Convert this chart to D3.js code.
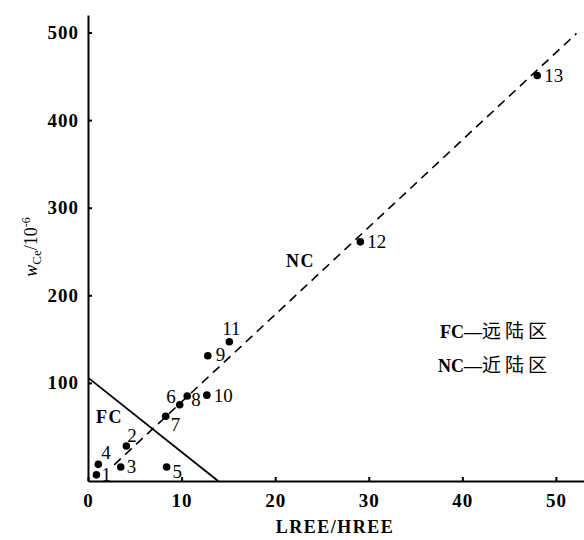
<!DOCTYPE html>
<html>
<head>
<meta charset="utf-8">
<script src="https://cdn.jsdelivr.net/npm/d3@7"></script>
<style>
  body { margin: 0; background: #fff; }
  .axis path, .axis line { stroke: #000; stroke-width: 2; }
  .axis text { font-family: "Liberation Serif", serif; font-weight: bold; font-size: 19px; fill: #000; letter-spacing: 1px; }
  .pt-label { font-family: "Liberation Serif", serif; font-size: 19px; fill: #000; }
  .zone { font-family: "Liberation Serif", serif; font-weight: bold; font-size: 18px; letter-spacing: 1.5px; }
  .legend { font-family: "Liberation Serif", serif; font-weight: bold; font-size: 18px; }
  .legend .cjk { font-family: "Noto Sans CJK SC", sans-serif; font-weight: normal; font-size: 19px; letter-spacing: 4px; }
</style>
</head>
<body>
<div id="chart"></div>
<script>
// sample numbers and values
const sampleIds = [1, 2, 3, 4, 5, 6, 7, 8, 9, 10, 11, 12, 13];
const lreeHree = [0.9, 4.1, 3.5, 1.1, 8.4, 9.8, 8.3, 10.6, 12.8, 12.7, 15.1, 29.1, 48.0];
const ceValues = [-5, 28, 4, 7, 4, 75, 62, 85, 131, 86, 147, 261, 451];

// boundary line of the FC field and the NC trend line (data units)
const fcLine = [[0, 106], [13.9, -12]];
const ncLine = [[2.8, 6.5], [52.2, 499]];

const xTicks = [0, 10, 20, 30, 40, 50];
const yTicks = [100, 200, 300, 400, 500];

const width = 584, height = 540;

const svg = d3.select("#chart")
  .append("svg")
    .attr("width", width)
    .attr("height", height);

const x = d3.scaleLinear()
  .domain([0, 53])
  .range([88, 584]);

const y = d3.scaleLinear()
  .domain([-12, 520])
  .range([481, 15]);

// axes, ticks point inward
svg.append("g")
  .attr("class", "axis")
  .attr("transform", `translate(0, ${y(-12)})`)
  .call(d3.axisBottom(x)
    .tickValues(xTicks)
    .tickSizeInner(-4)
    .tickSizeOuter(0)
    .tickPadding(13)
    .tickFormat(d3.format("d")));

svg.append("g")
  .attr("class", "axis")
  .attr("transform", `translate(${x(0)}, 0)`)
  .call(d3.axisLeft(y)
    .tickValues(yTicks)
    .tickSizeInner(-4)
    .tickSizeOuter(0)
    .tickPadding(9)
    .tickFormat(d3.format("d")));

const line = d3.line()
  .x(d => x(d[0]))
  .y(d => y(d[1]));

// FC field boundary
svg.append("path")
  .datum(fcLine)
  .attr("fill", "none")
  .attr("stroke", "#000")
  .attr("stroke-width", 1.8)
  .attr("d", line);

// NC trend line
svg.append("path")
  .datum(ncLine)
  .attr("fill", "none")
  .attr("stroke", "#000")
  .attr("stroke-width", 1.6)
  .attr("stroke-dasharray", "9,6")
  .attr("d", line);

const data = sampleIds.map((id, i) => ({id: id, r: lreeHree[i], ce: ceValues[i]}));

svg.append("g")
  .selectAll("circle")
  .data(data)
  .join("circle")
    .attr("cx", d => x(d.r))
    .attr("cy", d => y(d.ce))
    .attr("r", 3.8)
    .attr("fill", "#000");

// label placement next to each dot: [dx, dy, anchor]
const labelPos = {
  1: [5, 6, "start"], 2: [1, -4, "start"], 3: [6, 6, "start"], 4: [3, -5, "start"],
  5: [6, 11, "start"], 6: [-4, -2, "end"], 7: [5, 15, "start"], 8: [4, 10, "start"],
  9: [8, 5, "start"], 10: [7, 7, "start"], 11: [2, -7, "middle"], 12: [7, 6, "start"],
  13: [7, 7, "start"]
};

svg.append("g")
  .selectAll("text")
  .data(data)
  .join("text")
    .attr("class", "pt-label")
    .attr("x", d => x(d.r) + labelPos[d.id][0])
    .attr("y", d => y(d.ce) + labelPos[d.id][1])
    .attr("text-anchor", d => labelPos[d.id][2])
    .text(d => d.id);

// field names
svg.append("text")
  .attr("class", "zone")
  .attr("x", 96)
  .attr("y", 423)
  .text("FC");

svg.append("text")
  .attr("class", "zone")
  .attr("x", 286)
  .attr("y", 267)
  .text("NC");

// legend
const leg1 = svg.append("text").attr("class", "legend").attr("x", 440).attr("y", 338);
leg1.append("tspan").text("FC—");
leg1.append("tspan").attr("class", "cjk").text("远陆区");

const leg2 = svg.append("text").attr("class", "legend").attr("x", 438).attr("y", 372);
leg2.append("tspan").text("NC—");
leg2.append("tspan").attr("class", "cjk").text("近陆区");

// axis titles
svg.append("text")
  .attr("x", 335)
  .attr("y", 533)
  .attr("text-anchor", "middle")
  .style("font-family", "Liberation Serif, serif")
  .style("font-weight", "bold")
  .style("font-size", "18px")
  .style("letter-spacing", "1.5px")
  .text("LREE/HREE");

const yTitle = svg.append("text")
  .attr("transform", "translate(37, 247) rotate(-90)")
  .attr("text-anchor", "middle")
  .style("font-family", "Liberation Serif, serif")
  .style("font-size", "18px");
yTitle.append("tspan").style("font-style", "italic").text("w");
yTitle.append("tspan").attr("dy", 4).style("font-size", "13px").text("Ce");
yTitle.append("tspan").attr("dy", -4).text("/10");
yTitle.append("tspan").attr("dy", -7).style("font-size", "12px").text("-6");
</script>
</body>
</html>
